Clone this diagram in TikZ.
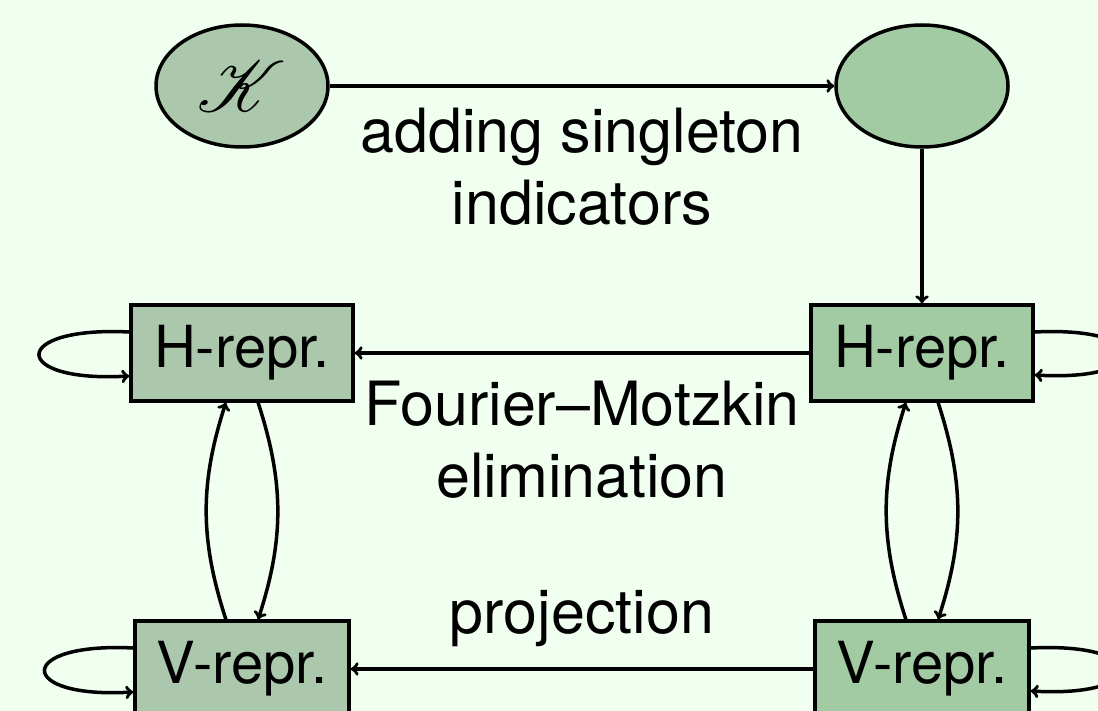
\documentclass[tikz,border=0pt]{standalone}
\usepackage{fontspec}
\setmainfont{TeX Gyre Heros}
\usepackage{mathrsfs}
\usepackage{graphicx}
\usetikzlibrary{shapes.geometric,calc}
\definecolor{bgc}{RGB}{240,255,240}
\definecolor{lgreen}{RGB}{172,200,172}
\definecolor{rgreen}{RGB}{163,203,163}
\begin{document}
\begin{tikzpicture}[x=1pt,y=-1pt, line width=3.5pt, >=to,
  ell/.style={ellipse, draw, minimum width=172pt, minimum height=122pt, inner sep=0pt},
  rep/.style={rectangle, draw, minimum height=96pt, inner sep=0pt, font=\fontsize{58}{68}\selectfont},
  lab/.style={align=center, inner sep=0pt, font=\fontsize{61}{72}\selectfont}]
\fill[bgc] (0,0) rectangle (1098,711);
\useasboundingbox (0,0) rectangle (1098,711);
\clip (0,0) rectangle (1098,711);

\node[ell, fill=lgreen] (k) at (242,86) {\scalebox{7.2}{$\mathscr{K}$}};
\node[ell, fill=rgreen] (e2) at (922,86) {};
\node[rep, fill=lgreen, minimum width=222pt] (hl) at (242,353) {H-repr.};
\node[rep, fill=rgreen, minimum width=222pt] (hr) at (922,353) {H-repr.};
\node[rep, fill=lgreen, minimum width=214pt] (vl) at (242,669) {V-repr.};
\node[rep, fill=rgreen, minimum width=214pt] (vr) at (922,669) {V-repr.};

\draw[->] (k) -- (e2);
\draw[->] (e2) -- (hr);
\draw[->] (hr) -- (hl);
\draw[->] (vr) -- (vl);
\draw[->] (hl) to[bend left=18] (vl);
\draw[->] (vl) to[bend left=18] (hl);
\draw[->] (hr) to[bend left=18] (vr);
\draw[->] (vr) to[bend left=18] (hr);

\draw[->] ([yshift=21pt]hl.west) .. controls +(-120,-6) and +(-120,7) .. ([yshift=-23pt]hl.west);
\draw[->] ([yshift=21pt]vl.west) .. controls +(-118,-6) and +(-118,7) .. ([yshift=-23pt]vl.west);
\draw[->] ([yshift=21pt]hr.east) .. controls +(120,-6) and +(120,7) .. ([yshift=-22pt]hr.east);
\draw[->] ([yshift=21pt]vr.east) .. controls +(120,-6) and +(120,7) .. ([yshift=-22pt]vr.east);

\node[lab, anchor=north] (l1) at ($(k.east)!0.5!(e2.west)+(0,20)$) {adding singleton\\indicators};
\node[lab, anchor=north] (l2) at ($(hr.west)!0.5!(hl.east)+(0,26)$) {Fourier--Motzkin\\elimination};
\node[lab, anchor=south] (l3) at ($(vr.west)!0.5!(vl.east)+(0,-20)$) {projection};
\end{tikzpicture}
\end{document}
